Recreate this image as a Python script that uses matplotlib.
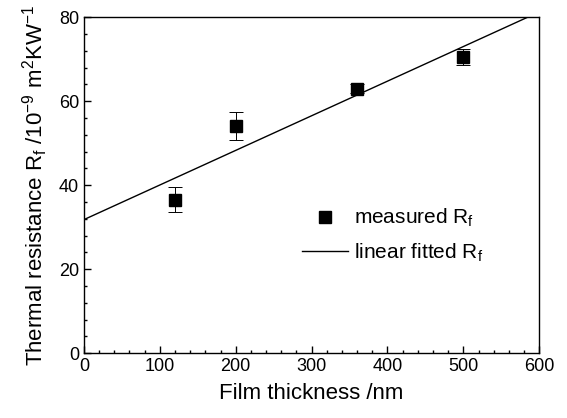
import numpy as np
import matplotlib
matplotlib.use('Agg')
import matplotlib.pyplot as plt
from matplotlib.ticker import MultipleLocator
from matplotlib.lines import Line2D

plt.rcParams['font.family'] = ['Liberation Sans', 'DejaVu Sans']
plt.rcParams['mathtext.fontset'] = 'custom'
plt.rcParams['mathtext.rm'] = 'Liberation Sans'
plt.rcParams['mathtext.it'] = 'Liberation Sans:italic'

# measured data
thickness = [120, 200, 360, 500]
rf = [36.5, 54.0, 63.0, 70.5]
rf_err = [3.0, 3.3, 1.0, 2.0]

# linear fit line
fit_x = [0, 585]
fit_y = [31.8, 80.0]

fig = plt.figure(figsize=(5.67, 4.18), dpi=100)
ax = fig.add_axes([0.148, 0.155, 0.803, 0.804])

ax.errorbar(thickness, rf, yerr=rf_err, fmt='s', color='black', ms=9,
            ecolor='black', elinewidth=0.7, capsize=5, capthick=0.7)
line, = ax.plot(fit_x, fit_y, color='black', lw=1.0)

ax.set_xlim(0, 600)
ax.set_ylim(0, 80)
ax.xaxis.set_major_locator(MultipleLocator(100))
ax.xaxis.set_minor_locator(MultipleLocator(20))
ax.yaxis.set_major_locator(MultipleLocator(20))
ax.yaxis.set_minor_locator(MultipleLocator(4))
ax.tick_params(which='both', direction='in', top=False, right=False, labelsize=13)
ax.tick_params(which='major', length=5, width=1)
ax.tick_params(which='minor', length=2.5, width=1)
for s in ax.spines.values():
    s.set_linewidth(1.0)

ax.set_xlabel('Film thickness /nm', fontsize=16, labelpad=6)
ax.set_ylabel(r'Thermal resistance R$_\mathrm{f}$ /10$^{-9}$ m$^2$KW$^{-1}$',
              fontsize=16, labelpad=6)

sq = Line2D([], [], ls='none', marker='s', color='black', ms=9)
leg = ax.legend([sq, line], [r'measured R$_\mathrm{f}$', r'linear fitted R$_\mathrm{f}$'],
                loc='upper left', bbox_to_anchor=(0.46, 0.46), frameon=False,
                fontsize=15, handlelength=2.2, handletextpad=0.3,
                labelspacing=0.6, borderaxespad=0)

fig.savefig('out.png', dpi=100)
